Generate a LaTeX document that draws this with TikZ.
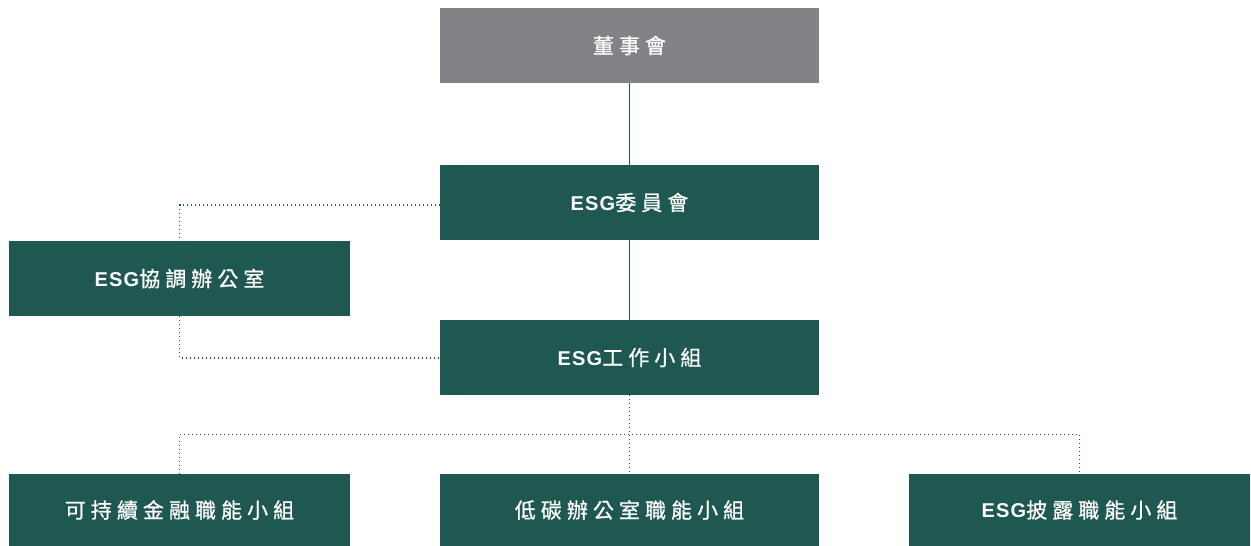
\documentclass[tikz,border=0pt]{standalone}
\usepackage{fontspec}
\setmainfont[LetterSpace=6]{Liberation Sans}
\newfontfamily\cjkf[LetterSpace=24,FakeBold=0.8]{Noto Sans CJK TC}
\newcommand{\cjk}{\cjkf\fontsize{21}{24}\selectfont}
\definecolor{boxgreen}{HTML}{1F5850}
\definecolor{boxgray}{HTML}{838387}
\definecolor{linegreen}{HTML}{245C54}
\tikzset{
  orgbox/.style={fill=boxgreen, draw=none, text=white, inner sep=0pt, font=\fontsize{20}{24}\selectfont},
  graybox/.style={orgbox, fill=boxgray},
  solidline/.style={draw=linegreen, line width=1.3pt},
  dotline/.style={draw=linegreen, line width=1.2pt, dash pattern=on 1.2pt off 2.8pt}
}
\newcommand{\esgt}{{\bfseries ESG}}
\begin{document}
\begin{tikzpicture}[x=1pt,y=-1pt]
\useasboundingbox (0,0) rectangle (1251,546);
\node[graybox, minimum width=379pt, minimum height=75pt] (board) at (629.5,45.5) {\cjk 董事會};
\node[orgbox, minimum width=379pt, minimum height=75pt] (comm) at (629.5,202.5) {\esgt\cjk 委員會};
\node[orgbox, minimum width=341pt, minimum height=75pt] (office) at (179.5,278.5) {\esgt\cjk 協調辦公室};
\node[orgbox, minimum width=379pt, minimum height=75pt] (work) at (629.5,357.5) {\esgt\cjk 工作小組};
\node[orgbox, minimum width=341pt, minimum height=72pt] (g1) at (179.5,510) {\cjk 可持續金融職能小組};
\node[orgbox, minimum width=379pt, minimum height=72pt] (g2) at (629.5,510) {\cjk 低碳辦公室職能小組};
\node[orgbox, minimum width=341pt, minimum height=72pt] (g3) at (1079.5,510) {\esgt\cjk 披露職能小組};
\coordinate (bus) at (629.5,434.5);
\draw[solidline] (board.south) -- (comm.north);
\draw[solidline] (comm.south) -- (work.north);
\draw[dotline] (comm.west |- 0,205) -| (office.north);
\draw[dotline] (office.south) |- (work.west |- 0,358);
\draw[dotline] (work.south) -- (g2.north);
\draw[dotline] (g1.north) |- (bus) -| (g3.north);
\end{tikzpicture}
\end{document}
